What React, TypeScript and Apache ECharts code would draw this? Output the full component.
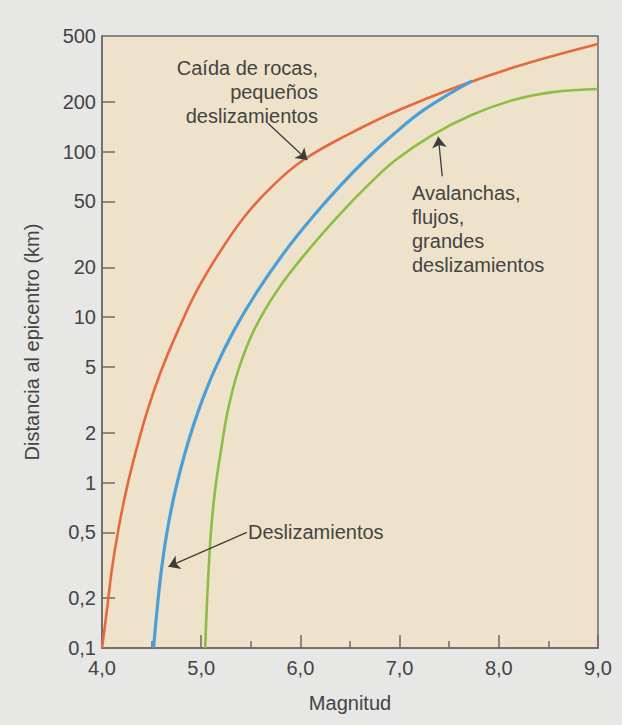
import React, { useEffect, useRef } from "react";
import * as echarts from "echarts";

// ---- data ----
const magTicks = [4, 5, 6, 7, 8, 9];
const distTickValues = [0.1, 0.2, 0.5, 1, 2, 5, 10, 20, 50, 100, 200, 500];
const distTickLabels = ["0,1", "0,2", "0,5", "1", "2", "5", "10", "20", "50", "100", "200", "500"];

// Caída de rocas, pequeños deslizamientos (red)
const rocasMag = [4.0, 4.05, 4.1, 4.165, 4.245, 4.345, 4.46, 4.6, 4.77, 4.96, 5.2, 5.45, 5.73, 6.03, 6.47, 7.0, 7.63, 8.23, 9.0];
const rocasDist = [0.1, 0.17, 0.3, 0.52, 0.9, 1.57, 2.75, 4.8, 8.4, 14.6, 25.4, 41.4, 63, 89, 126, 179, 253, 334, 447];

// Deslizamientos (blue)
const deslizMag = [4.52, 4.555, 4.6, 4.66, 4.74, 4.845, 4.975, 5.135, 5.335, 5.575, 5.855, 6.14, 6.41, 6.655, 6.93, 7.245, 7.73];
const deslizDist = [0.1, 0.17, 0.3, 0.52, 0.9, 1.57, 2.75, 4.8, 8.4, 14.6, 25.4, 41.4, 63, 89, 126, 179, 268];

// Avalanchas, flujos, grandes deslizamientos (green)
const avalMag = [5.04, 5.055, 5.075, 5.1, 5.14, 5.2, 5.27, 5.375, 5.535, 5.77, 6.08, 6.39, 6.685, 6.96, 7.33, 7.72, 8.145, 8.545, 9.0];
const avalDist = [0.1, 0.17, 0.3, 0.52, 0.9, 1.57, 2.75, 4.8, 8.4, 14.6, 25.4, 41.4, 63, 89, 126, 166, 205, 229, 239];

// arrows: [tailMag, tailDist, tipMag, tipDist]
const arrowRocas = [5.67, 149, 6.07, 89];
const arrowAval = [7.43, 71, 7.39, 123];
const arrowDesliz = [5.46, 0.5, 4.67, 0.31];

const FONT = '"Liberation Sans", Arial, Helvetica, sans-serif';
const TEXT = "#444444";
const AXIS = "#6a6a6a";

function arrowLine(a: number[]) {
  return {
    silent: true,
    symbol: ["none", "arrow"],
    symbolSize: 11,
    label: { show: false },
    emphasis: { disabled: true },
    lineStyle: { color: "#3c3c3c", width: 1.3, type: "solid" },
    itemStyle: { color: "#3c3c3c" },
    data: [[{ coord: [a[0], a[1]] }, { coord: [a[2], a[3]] }]],
  };
}

export default function App() {
  const ref = useRef<HTMLDivElement>(null);
  useEffect(() => {
    if (!ref.current) return;
    const chart = echarts.init(ref.current, null, { renderer: "svg" });
    const logMin = Math.log10(distTickValues[0]);
    const logMax = Math.log10(distTickValues[distTickValues.length - 1]);
    const logTicks = distTickValues.map((v) => Math.log10(v));
    const innerTicks = logTicks.slice(1, -1);
    const lineSeries = (name: string, mags: number[], dists: number[], color: string, width: number, arrow: number[]) => ({
      type: "line",
      name,
      yAxisIndex: 0,
      data: mags.map((m, i) => [m, dists[i]]),
      smooth: 0.4,
      showSymbol: false,
      silent: true,
      lineStyle: { color, width },
      markLine: arrowLine(arrow),
    });
    chart.setOption({
      animation: false,
      backgroundColor: "#E7E7E5",
      grid: {
        left: 102,
        top: 36,
        right: 24,
        bottom: 77,
        show: true,
        backgroundColor: "#EEE3CA",
        borderColor: AXIS,
        borderWidth: 1.5,
      },
      xAxis: {
        type: "value",
        min: magTicks[0],
        max: magTicks[magTicks.length - 1],
        interval: 1,
        splitLine: { show: false },
        axisLine: { onZero: false, lineStyle: { color: AXIS, width: 1.5 } },
        axisTick: { inside: true, length: 13, lineStyle: { color: AXIS, width: 1.5 } },
        minorTick: { show: true, splitNumber: 2, length: 7, lineStyle: { color: AXIS, width: 1.5 } },
        axisLabel: {
          margin: 10,
          fontSize: 20,
          fontFamily: FONT,
          color: TEXT,
          formatter: (v: number) => v.toFixed(1).replace(".", ","),
        },
        name: "Magnitud",
        nameLocation: "middle",
        nameGap: 45,
        nameTextStyle: { fontSize: 20, fontFamily: FONT, color: TEXT },
      },
      yAxis: [
        {
          type: "log",
          logBase: 10,
          min: distTickValues[0],
          max: distTickValues[distTickValues.length - 1],
          show: false,
        },
        {
          type: "value",
          min: logMin,
          max: logMax,
          position: "left",
          splitLine: { show: false },
          axisLine: { show: true, onZero: false, lineStyle: { color: AXIS, width: 1.5 } },
          axisTick: {
            show: true,
            inside: true,
            length: 13,
            customValues: innerTicks,
            lineStyle: { color: AXIS, width: 1.5 },
          },
          axisLabel: {
            margin: 6,
            fontSize: 20,
            fontFamily: FONT,
            color: TEXT,
            customValues: logTicks,
            formatter: (v: number) => {
              const i = logTicks.findIndex((t) => Math.abs(t - v) < 1e-6);
              return i >= 0 ? distTickLabels[i] : "";
            },
          },
          name: "Distancia al epicentro (km)",
          nameLocation: "middle",
          nameGap: 60,
          nameTextStyle: { fontSize: 20, fontFamily: FONT, color: TEXT },
        },
      ],
      series: [
        lineSeries("Caída de rocas", rocasMag, rocasDist, "#E6683F", 2.6, arrowRocas),
        lineSeries("Deslizamientos", deslizMag, deslizDist, "#4B9FD9", 3.2, arrowDesliz),
        lineSeries("Avalanchas", avalMag, avalDist, "#8CBE45", 2.6, arrowAval),
      ],
      graphic: [
        {
          type: "text",
          x: 318,
          y: 56,
          silent: true,
          style: {
            text: "Caída de rocas,\npequeños\ndeslizamientos",
            align: "right",
            verticalAlign: "top",
            lineHeight: 24,
            font: `20px ${FONT}`,
            fill: TEXT,
          },
        },
        {
          type: "text",
          x: 412,
          y: 181,
          silent: true,
          style: {
            text: "Avalanchas,\nflujos,\ngrandes\ndeslizamientos",
            align: "left",
            verticalAlign: "top",
            lineHeight: 24,
            font: `20px ${FONT}`,
            fill: TEXT,
          },
        },
        {
          type: "text",
          x: 248,
          y: 532,
          silent: true,
          style: {
            text: "Deslizamientos",
            align: "left",
            verticalAlign: "middle",
            font: `20px ${FONT}`,
            fill: TEXT,
          },
        },
      ],
    });
    return () => chart.dispose();
  }, []);
  return (
    <div
      ref={ref}
      style={{ position: "fixed", left: 0, top: 0, width: 622, height: 725, background: "#E7E7E5" }}
    />
  );
}
